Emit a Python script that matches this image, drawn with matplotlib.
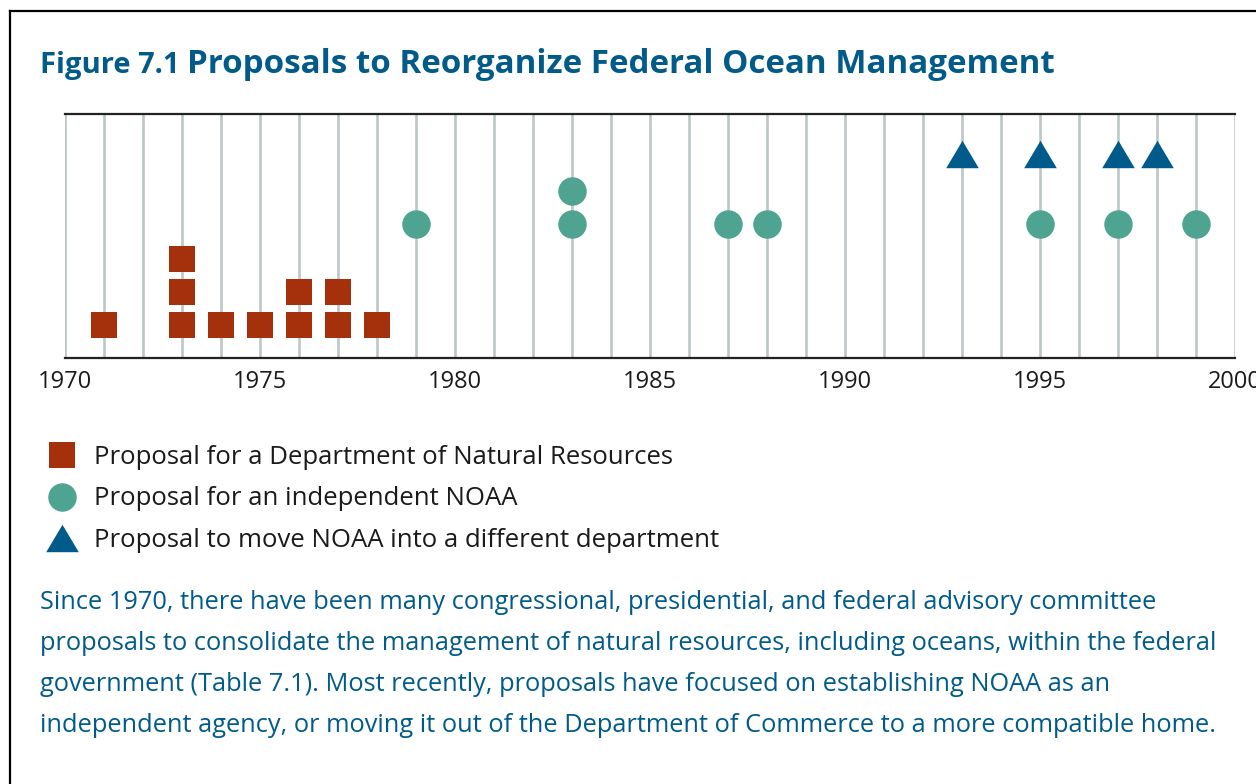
import matplotlib.pyplot as plt
from matplotlib.lines import Line2D
from collections import Counter

# years of each proposal, one entry per proposal
dnr_years = [1971, 1973, 1973, 1973, 1974, 1975, 1976, 1976, 1977, 1977, 1978]
indep_years = [1979, 1983, 1983, 1987, 1988, 1995, 1997, 1999]
move_years = [1993, 1995, 1997, 1998]

labels = [
    "Proposal for a Department of Natural Resources",
    "Proposal for an independent NOAA",
    "Proposal to move NOAA into a different department",
]
caption = [
    "Since 1970, there have been many congressional, presidential, and federal advisory committee",
    "proposals to consolidate the management of natural resources, including oceans, within the federal",
    "government (Table 7.1). Most recently, proposals have focused on establishing NOAA as an",
    "independent agency, or moving it out of the Department of Commerce to a more compatible home.",
]

RED = "#A5310C"
GREEN = "#4EA391"
BLUE = "#005B8B"
TRI = [(-1, -0.84), (1, -0.84), (0, 0.84)]

W, H = 1256, 784
plt.rcParams["font.family"] = ["Open Sans", "DejaVu Sans"]
fig = plt.figure(figsize=(W / 100, H / 100), dpi=100)


def px(x, y):
    return x / W, 1 - y / H


def stacked(years, base):
    seen = Counter()
    ys = []
    for yr in years:
        ys.append(base + seen[yr])
        seen[yr] += 1
    return ys


ax = fig.add_axes([65 / W, 1 - 358 / H, 1170 / W, 244 / H])
ax.set_xlim(1970, 2000)
ax.set_ylim(0, 7.4)

styles = [
    (dnr_years, 1.0, "s", RED, 19.2),
    (indep_years, 4.05, "o", GREEN, 20.5),
    (move_years, 6.2, TRI, BLUE, 23.5),
]
for years, base, marker, color, ms in styles:
    ax.plot(years, stacked(years, base), linestyle="none", marker=marker,
            markersize=ms, color=color, markeredgewidth=0, zorder=3)

ax.set_xticks(range(1970, 2001, 5))
ax.set_xticks(range(1970, 2001), minor=True)
ax.set_yticks([])
ax.tick_params(axis="x", which="both", length=0, pad=9, labelsize=17, labelcolor="#1a1a1a")
ax.grid(axis="x", which="both", color="#BEC6C8", linewidth=1.9, zorder=0)
for side in ["left", "right"]:
    ax.spines[side].set_visible(False)
for side in ["top", "bottom"]:
    ax.spines[side].set_color("#222222")
    ax.spines[side].set_linewidth(1.6)

# title
fig.text(*px(40, 73), "Figure 7.1", color=BLUE, fontsize=21, fontweight="bold", va="baseline")
fig.text(*px(187, 73), "Proposals to Reorganize Federal Ocean Management", color=BLUE,
         fontsize=23.9, fontweight="bold", va="baseline")

# legend
for i, ((_, _, marker, color, ms), lab) in enumerate(zip(styles, labels)):
    yc = 455 + i * 41.5
    fig.add_artist(Line2D([62 / W], [1 - yc / H], marker=marker, markersize=ms,
                          color=color, markeredgewidth=0, linestyle="none"))
    fig.text(*px(94, yc + 9), lab, fontsize=18.5, color="#1a1a1a", va="baseline")

# caption
for i, line in enumerate(caption):
    fig.text(*px(40, 609 + i * 41), line, fontsize=18.3, color=BLUE, va="baseline")

# frame
fig.add_artist(Line2D([10 / W, 10 / W], [0, 1 - 11 / H], color="black", linewidth=1.6))
fig.add_artist(Line2D([10 / W, 1], [1 - 11 / H, 1 - 11 / H], color="black", linewidth=1.6))

fig.savefig("out.png", dpi=100)
